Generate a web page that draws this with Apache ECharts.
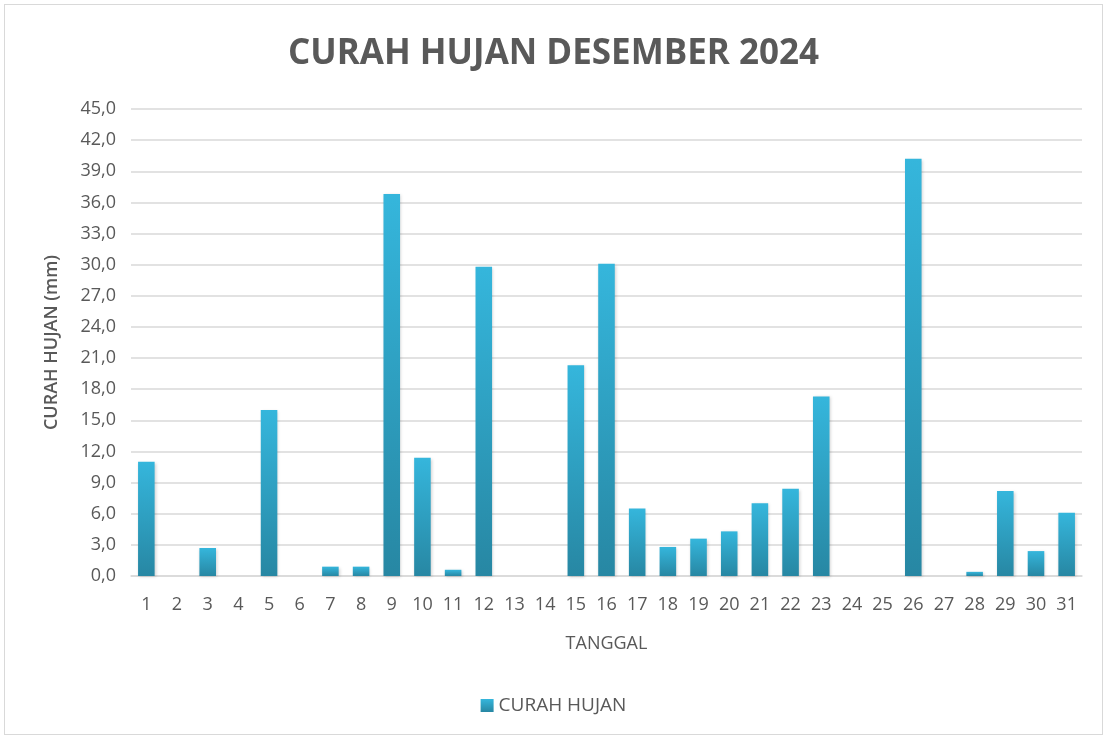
<!DOCTYPE html>
<html lang="id">
<head>
  <meta charset="UTF-8">
  <title>Curah Hujan Desember 2024</title>
  <style>
  html, body { margin: 0; padding: 0; background: #ffffff; }
  #main {
    position: absolute;
    left: 4px;
    top: 4px;
    width: 1099px;
    height: 731px;
    border: 1px solid #d9d9d9;
    box-sizing: border-box;
  }
  </style>
  <script src="https://cdn.jsdelivr.net/npm/echarts@6/dist/echarts.min.js"></script>
</head>
<body>
  <div id="main"></div>
  <script>
  // data
  var tanggal = [];
  for (var d = 1; d <= 31; d++) tanggal.push(String(d));
  var curahHujan = [
    11.0, 0, 2.7, 0, 16.0, 0, 0.9, 0.9, 36.8, 11.4,
    0.6, 29.8, 0, 0, 20.3, 30.1, 6.5, 2.8, 3.6, 4.3,
    7.0, 8.4, 17.3, 0, 0, 40.2, 0, 0.4, 8.2, 2.4,
    6.1
  ];

  var textColor = '#595959';
  var font = 'Open Sans';

  var chart = echarts.init(document.getElementById('main'));
  chart.setOption({
    animation: false,
    title: {
      text: 'CURAH HUJAN DESEMBER 2024',
      left: 'center',
      top: 27,
      textStyle: {
        color: textColor,
        fontFamily: font,
        fontWeight: 'bold',
        fontSize: 35
      }
    },
    legend: {
      bottom: 14,
      left: 'center',
      itemWidth: 13,
      itemHeight: 13,
      itemGap: 8,
      textStyle: { color: textColor, fontFamily: font, fontSize: 19 },
      data: [{ name: 'CURAH HUJAN', icon: 'rect' }]
    },
    grid: {
      left: 126,
      right: 20,
      top: 104,
      bottom: 158
    },
    xAxis: {
      type: 'category',
      data: tanggal,
      name: 'TANGGAL',
      nameLocation: 'middle',
      nameGap: 59,
      nameTextStyle: { color: textColor, fontFamily: font, fontSize: 18 },
      axisLine: { lineStyle: { color: '#d9d9d9', width: 1.5 } },
      axisTick: { show: false },
      axisLabel: { color: textColor, fontFamily: font, fontSize: 18, margin: 20, interval: 0 }
    },
    yAxis: {
      type: 'value',
      min: 0,
      max: 45,
      interval: 3,
      name: 'CURAH HUJAN (mm)',
      nameLocation: 'middle',
      nameGap: 70,
      nameTextStyle: { color: textColor, fontFamily: font, fontSize: 18, fontWeight: 600 },
      axisLine: { show: false },
      axisTick: { show: false },
      axisLabel: {
        color: textColor,
        fontFamily: font,
        fontSize: 18,
        margin: 15,
        formatter: function (v) { return v.toFixed(1).replace('.', ','); }
      },
      splitLine: { lineStyle: { color: '#d9d9d9', width: 1.5 } }
    },
    series: [{
      name: 'CURAH HUJAN',
      type: 'bar',
      data: curahHujan,
      barCategoryGap: '46%',
      itemStyle: {
        color: new echarts.graphic.LinearGradient(0, 0, 0, 1, [
          { offset: 0, color: '#35b6dc' },
          { offset: 1, color: '#2787a3' }
        ]),
        shadowBlur: 3,
        shadowColor: 'rgba(0, 0, 0, 0.18)',
        shadowOffsetX: 1,
        shadowOffsetY: 1
      }
    }]
  });
  </script>
</body>
</html>
